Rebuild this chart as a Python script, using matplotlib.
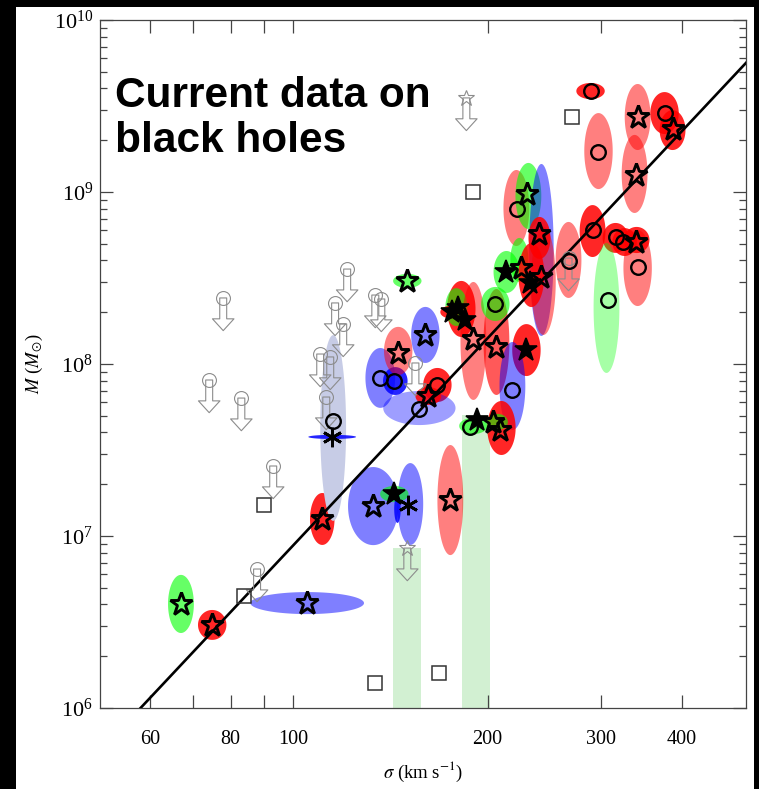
import numpy as np
import matplotlib
matplotlib.use('Agg')
from matplotlib import pyplot as plt
from matplotlib.patches import Rectangle

plt.rcParams['font.family'] = 'serif'
plt.rcParams['font.serif'] = ['Liberation Serif', 'DejaVu Serif']
plt.rcParams['mathtext.fontset'] = 'stix'

# fill colours for the error ellipses
FILL = {
    'red': (1, 0, 0, 0.85),
    'mred': (1, 0, 0, 0.65),
    'salmon': (1, 0, 0, 0.5),
    'green': (0, 1, 0, 0.6),
    'lgreen': (0, 1, 0, 0.35),
    'blue': (0, 0, 1, 0.5),
    'dblue': (0, 0, 1, 0.85),
    'lblue': (0, 0, 1, 0.38),
    'grey': (0.78, 0.8, 0.9, 1),
}

# error ellipses: centre sigma (km/s), centre log M, half widths in dex
ell_sig = [67.0, 74.9, 105.1, 110.9, 115.3, 114.9, 136.4, 143.9, 145.4, 160.2,
           150.2, 167.2, 156.8, 161.9, 182.1, 178.9, 174.5, 190.1, 206.4, 205.6,
           213.9, 221.6, 231.3, 242.3, 240.6, 224.0, 233.8, 244.1, 266.9, 290.8,
           315.6, 326.0, 340.2, 341.5, 305.6, 297.0, 288.7, 341.5, 337.8, 375.9,
           386.8, 229.7, 218.5, 210.1, 190.1, 207.2, 133.0, 151.8, 143.4, 145.0,
           175.1]
ell_logm = [6.605, 6.483, 6.610, 7.099, 7.628, 7.576, 7.919, 7.901, 8.076, 8.169,
            8.483, 7.878, 7.744, 7.814, 8.320, 8.331, 8.302, 8.134, 8.128, 8.349,
            8.535, 8.907, 8.977, 8.663, 8.733, 8.605, 8.517, 8.483, 8.605, 8.773,
            8.733, 8.709, 8.721, 8.558, 8.326, 9.238, 9.587, 9.436, 9.105, 9.459,
            9.360, 8.081, 7.872, 7.628, 7.640, 7.663, 7.174, 7.186, 7.244, 7.157,
            7.209]
ell_dx = [.020, .022, .088, .019, .020, .037, .023, .019, .022, .022,
          .022, .022, .056, .020, .022, .017, .014, .020, .020, .022,
          .020, .020, .020, .019, .017, .014, .020, .019, .020, .020,
          .020, .019, .020, .022, .020, .022, .022, .020, .020, .022,
          .020, .022, .020, .022, .022, .016, .039, .020, .022, .005,
          .020]
ell_dy = [.169, .087, .064, .151, .54, .012, .174, .081, .140, .163,
          .041, .099, .099, .052, .163, .110, .035, .343, .308, .099,
          .122, .221, .192, .50, .122, .128, .186, .314, .221, .151,
          .087, .081, .076, .221, .378, .221, .047, .192, .227, .122,
          .116, .151, .256, .157, .047, .047, .227, .238, .047, .081,
          .320]
ell_col = ['green', 'red', 'blue', 'red', 'grey', 'dblue', 'blue', 'dblue', 'salmon', 'blue',
           'green', 'red', 'lblue', 'red', 'red', 'green', 'red', 'salmon', 'mred', 'green',
           'green', 'salmon', 'green', 'blue', 'red', 'green', 'red', 'salmon', 'salmon', 'red',
           'red', 'red', 'red', 'salmon', 'lgreen', 'salmon', 'red', 'salmon', 'salmon', 'red',
           'red', 'red', 'blue', 'red', 'green', 'green', 'blue', 'blue', 'green', 'dblue',
           'salmon']

# marker positions (sigma, log M)
star_sig = [67.0, 74.9, 105.1, 110.9, 145.4, 160.2, 150.2, 161.9, 190.1, 206.4,
            230.5, 240.6, 225.6, 242.3, 339.0, 341.5, 339.0, 386.8, 133.0, 175.1,
            204.2, 209.4]
star_logm = [6.605, 6.483, 6.610, 7.099, 8.064, 8.169, 8.483, 7.814, 8.145, 8.099,
             8.988, 8.756, 8.558, 8.506, 8.709, 9.436, 9.099, 9.366, 7.174, 7.209,
             7.663, 7.616]
fstar_sig = [180.2, 184.8, 176.4, 213.9, 229.7, 143.4, 192.8, 233.0]
fstar_logm = [8.326, 8.256, 8.302, 8.535, 8.081, 7.244, 7.674, 8.471]
circ_sig = [115.3, 136.4, 143.4, 167.2, 156.8, 188.1, 205.6, 222.4, 266.9, 290.8,
            315.6, 323.6, 341.5, 306.8, 297.0, 288.7, 375.9, 218.5]
circ_logm = [7.669, 7.919, 7.901, 7.878, 7.738, 7.634, 8.349, 8.901, 8.599, 8.779,
             8.738, 8.709, 8.564, 8.372, 9.233, 9.587, 9.459, 7.849]
ast_sig = [114.9, 150.7]
ast_logm = [7.576, 7.180]
sq_sig = [83.9, 90.2, 134.0, 168.4, 190.1, 270.7]
sq_logm = [6.651, 7.180, 6.145, 6.203, 9.0, 9.436]

# upper limits
lim_sig = [77.9, 74.1, 83.1, 93.1, 87.9, 121.2, 116.1, 119.5, 110.1, 114.1,
           112.5, 134.0, 136.9, 154.6, 266.9]
lim_logm = [8.384, 7.907, 7.802, 7.407, 6.808, 8.552, 8.355, 8.233, 8.058, 8.041,
            7.808, 8.401, 8.378, 8.006, 8.616]
limstar_sig = [185.4, 150.2]
limstar_logm = [9.547, 6.930]

# mass ranges (light green bands): sigma from, sigma to, top log M
band_lo = [142.9, 182.8]
band_hi = [157.9, 202.0]
band_top = [6.930, 7.703]

fig = plt.figure(figsize=(7.59, 7.89), dpi=100, facecolor='black')
fig.add_artist(Rectangle((16 / 759, 0), 738 / 759, 782 / 789, transform=fig.transFigure,
                         facecolor='white', edgecolor='none', zorder=-10))
ax = fig.add_axes([100 / 759, 1 - 708 / 789, 646 / 759, 688 / 789])
ax.set_xscale('log')
ax.set_yscale('log')
ax.set_xlim(50.2, 502.6)
ax.set_ylim(1e6, 1e10)

for lo, hi, top in zip(band_lo, band_hi, band_top):
    ax.fill_between([lo, hi], 1e6, 10**top, color='#d2f0d2', lw=0, zorder=1)

t = np.linspace(0, 2 * np.pi, 120)
for s, m, dx, dy, c in zip(ell_sig, ell_logm, ell_dx, ell_dy, ell_col):
    ax.fill(10**(np.log10(s) + dx * np.cos(t)), 10**(m + dy * np.sin(t)),
            color=FILL[c], lw=0, zorder=2)

# M-sigma relation
sg = np.logspace(np.log10(50), np.log10(510), 50)
ax.plot(sg, 10**(8.15 + 4.0 * np.log10(sg / 200)), color='black', lw=1.9, zorder=3)

ax.plot(star_sig, 10**np.array(star_logm), ls='none', marker='*', ms=17,
        mfc='none', mec='black', mew=2.1, zorder=5)
ax.plot(fstar_sig, 10**np.array(fstar_logm), ls='none', marker='*', ms=17,
        mfc='black', mec='black', mew=1.2, zorder=5)
ax.plot(circ_sig, 10**np.array(circ_logm), ls='none', marker='o', ms=10.5,
        mfc='none', mec='black', mew=1.7, zorder=5)
ax.plot(ast_sig, 10**np.array(ast_logm), ls='none', marker=(6, 2, 0), ms=14,
        mec='black', mew=2.0, zorder=5)
ax.plot(sq_sig, 10**np.array(sq_logm), ls='none', marker='s', ms=10,
        mfc='none', mec='#333333', mew=1.1, zorder=5)

arrow = dict(arrowstyle='simple,head_length=0.85,head_width=1.55,tail_width=0.5',
             fc='none', ec='#8c8c8c', lw=0.8, shrinkA=0, shrinkB=0, mutation_scale=10)
for s, m in zip(lim_sig + limstar_sig, lim_logm + limstar_logm):
    ax.annotate('', xy=(s, 10**(m - 0.19)), xytext=(s, 10**m), arrowprops=arrow, zorder=4)
ax.plot(lim_sig, 10**np.array(lim_logm), ls='none', marker='o', ms=10,
        mfc='none', mec='#8c8c8c', mew=0.8, zorder=4)
ax.plot(limstar_sig, 10**np.array(limstar_logm), ls='none', marker='*', ms=12,
        mfc='none', mec='#8c8c8c', mew=0.8, zorder=4)

ax.set_xticks([60, 70, 80, 90, 100, 200, 300, 400])
ax.set_xticklabels(['60', '', '80', '', '100', '200', '300', '400'])
ax.xaxis.set_minor_locator(matplotlib.ticker.NullLocator())
ax.tick_params(which='both', direction='in', top=True, right=True, color='#444444', width=0.9)
ax.tick_params(which='major', length=9.5)
ax.tick_params(which='minor', length=5)
ax.tick_params(axis='x', pad=16, labelsize=14.5)
ax.tick_params(axis='y', pad=5, labelsize=16)
for sp in ax.spines.values():
    sp.set_color('#444444')
    sp.set_linewidth(0.9)

ax.set_xlabel(r'$\sigma$ (km s$^{-1}$)', fontsize=13.5, labelpad=8)
ax.set_ylabel(r'$M$ ($M_{\odot}$)', fontsize=13.5, labelpad=6)

ax.text(0.023, 0.918, 'Current data on\nblack holes', transform=ax.transAxes,
        fontsize=30.5, fontweight='bold', family='Liberation Sans', va='top',
        linespacing=1.15, zorder=6)

fig.savefig('out.png', dpi=100, facecolor='black')
